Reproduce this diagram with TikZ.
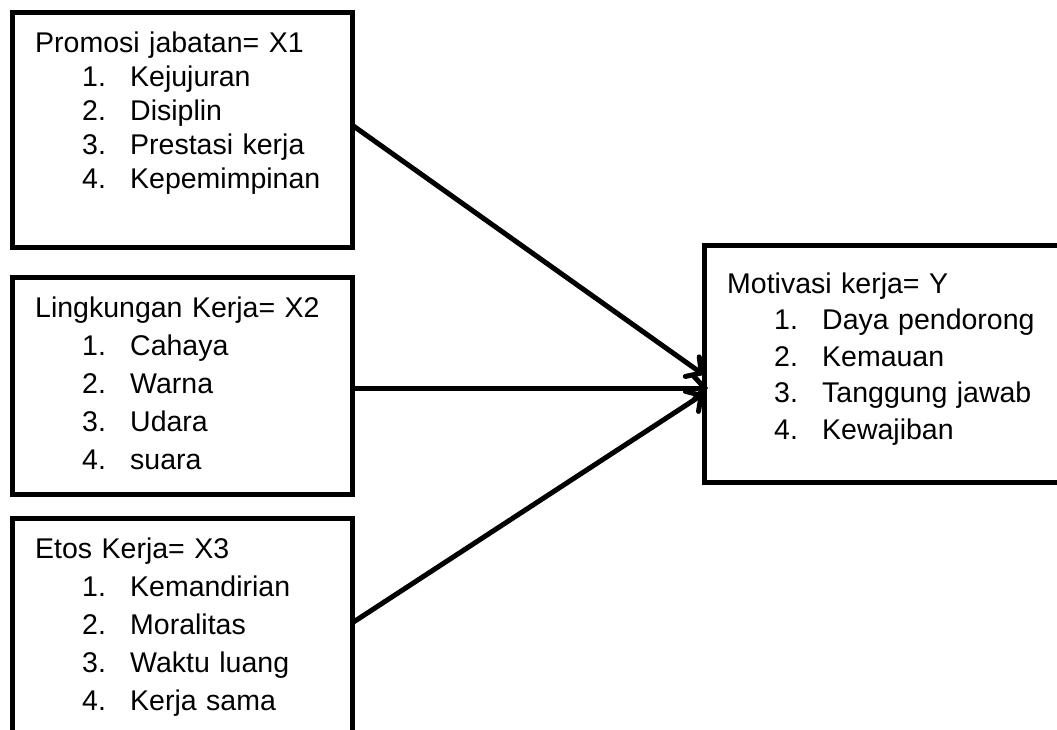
\documentclass[tikz,border=0pt]{standalone}
\usepackage{fontspec}
\setmainfont{Liberation Sans}
\usetikzlibrary{arrows.meta}

\newcommand{\itm}[2]{\hspace*{47pt}\makebox[48pt][l]{#1}#2}

\begin{document}
\begin{tikzpicture}[x=1pt,y=-1pt,
  box/.style={draw,line width=5pt,rectangle,outer sep=0pt,inner sep=0pt},
  txt/.style={anchor=base west,inner sep=0pt,align=left,text width=330pt},
  link/.style={line width=5pt,-{Straight Barb[length=11pt,width=24pt,line cap=round]}}]

\useasboundingbox (0,0) rectangle (1057,729);
\clip (0,0) rectangle (1057,729);

\node[box,minimum width=340pt,minimum height=235pt] (x1) at (182,129.5) {};
\node[box,minimum width=340pt,minimum height=217pt] (x2) at (182,385.5) {};
\node[box,minimum width=340pt,minimum height=242pt] (x3) at (182,639) {};
\node[box,minimum width=371pt,minimum height=237pt] (y) at (889.5,363.5) {};

\node[txt,font=\fontsize{28.5}{34}\selectfont] (x1t) at (35,52.5) {Promosi jabatan= X1\\
  \itm{1.}{Kejujuran}\\ \itm{2.}{Disiplin}\\ \itm{3.}{Prestasi kerja}\\ \itm{4.}{Kepemimpinan}};
\node[txt,font=\fontsize{28.5}{38}\selectfont] (x2t) at (35,317) {Lingkungan Kerja= X2\\
  \itm{1.}{Cahaya}\\ \itm{2.}{Warna}\\ \itm{3.}{Udara}\\ \itm{4.}{suara}};
\node[txt,font=\fontsize{28.5}{38}\selectfont] (x3t) at (35,558) {Etos Kerja= X3\\
  \itm{1.}{Kemandirian}\\ \itm{2.}{Moralitas}\\ \itm{3.}{Waktu luang}\\ \itm{4.}{Kerja sama}};
\node[txt,font=\fontsize{28.5}{36.5}\selectfont] (yt) at (727,293) {Motivasi kerja= Y\\
  \itm{1.}{Daya pendorong}\\ \itm{2.}{Kemauan}\\ \itm{3.}{Tanggung jawab}\\ \itm{4.}{Kewajiban}};

\draw[link] ([yshift=4.5pt]x1.east) -- ([yshift=-11.5pt]y.west);
\draw[link] ([yshift=-2.5pt]x2.east) -- ([shift={(4pt,-24.5pt)}]y.west);
\draw[link] ([yshift=16pt]x3.east) -- ([yshift=-30pt]y.west);

\end{tikzpicture}
\end{document}
